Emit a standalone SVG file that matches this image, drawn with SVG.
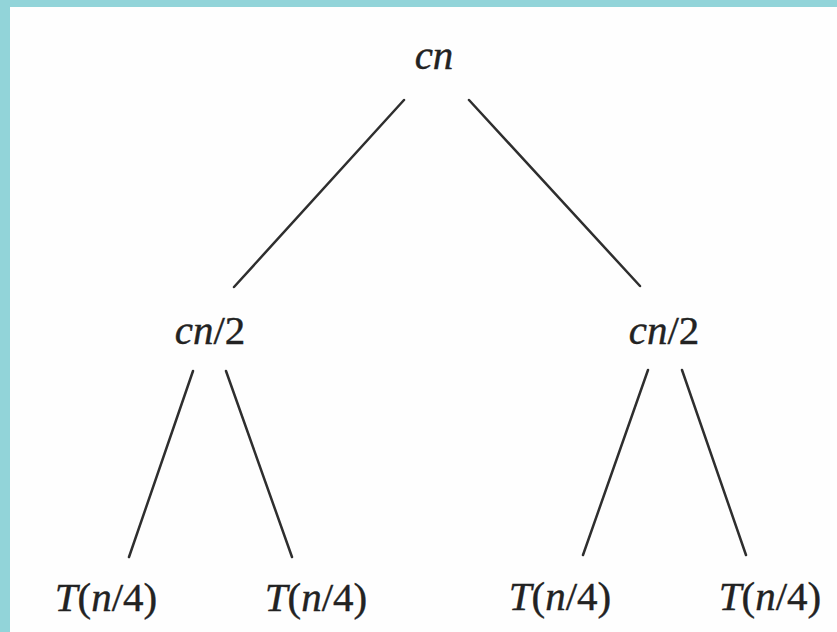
<svg xmlns="http://www.w3.org/2000/svg" width="837" height="632" viewBox="0 0 837 632">
  <style>
    .edge { stroke: #2e2e2e; stroke-width: 2.5; stroke-linecap: round; fill: none; }
    .lbl { font-family: "Liberation Serif", "DejaVu Serif", serif; font-size: 41px; fill: #222; stroke: #222; stroke-width: 0.4; text-anchor: middle; }
    .it { font-style: italic; }
  </style>
  <rect x="0" y="0" width="837" height="632" fill="#92d4d9"/>
  <rect x="10" y="7" width="827" height="625" fill="#fefefe"/>
  <g id="connectors">
    <line class="edge" x1="404" y1="100" x2="234" y2="287"/>
    <line class="edge" x1="469" y1="100" x2="640" y2="286"/>
    <line class="edge" x1="193" y1="371" x2="129" y2="557"/>
    <line class="edge" x1="226" y1="371" x2="292" y2="557"/>
    <line class="edge" x1="648" y1="370" x2="583" y2="555"/>
    <line class="edge" x1="682" y1="370" x2="746" y2="555"/>
  </g>
  <g id="root">
    <text class="lbl it" x="434" y="69">cn</text>
  </g>
  <g id="left-mid">
    <text class="lbl" x="210" y="344"><tspan class="it">cn</tspan>/2</text>
  </g>
  <g id="right-mid">
    <text class="lbl" x="664" y="344"><tspan class="it">cn</tspan>/2</text>
  </g>
  <g id="leaf1">
    <text class="lbl" x="106" y="611"><tspan class="it">T</tspan>(<tspan class="it">n</tspan>/4)</text>
  </g>
  <g id="leaf2">
    <text class="lbl" x="316" y="611"><tspan class="it">T</tspan>(<tspan class="it">n</tspan>/4)</text>
  </g>
  <g id="leaf3">
    <text class="lbl" x="560" y="610"><tspan class="it">T</tspan>(<tspan class="it">n</tspan>/4)</text>
  </g>
  <g id="leaf4">
    <text class="lbl" x="770" y="610"><tspan class="it">T</tspan>(<tspan class="it">n</tspan>/4)</text>
  </g>
</svg>
